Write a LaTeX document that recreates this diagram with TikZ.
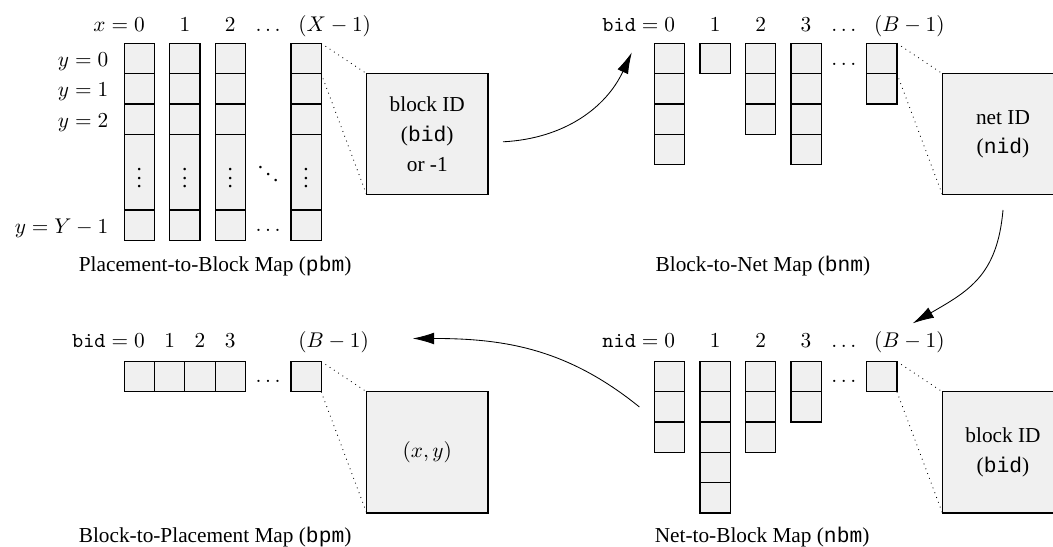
\documentclass[tikz,border=0pt]{standalone}
\usepackage[no-math]{fontspec}
\setmainfont{Liberation Serif}
\setmonofont{Liberation Mono}
\usetikzlibrary{positioning,arrows.meta}
\tikzset{
	x=0.5cm, y=0.5cm, % one unit is the side of one cell
	>={Latex[length=10pt,width=5.5pt]}, % big filled arrow heads
	cell/.style={draw, semithick, fill=black!6, minimum size=0.5cm, inner sep=0pt, outer sep=0pt}, % one entry of a map
	bigcell/.style={draw, semithick, fill=black!6, minimum size=2cm, align=center, outer sep=0pt}, % an entry seen up close
	zoomline/.style={dotted}, % from an entry to its close-up
}

\begin{document}
\begin{tikzpicture}
	\useasboundingbox (-4.1,1.43) rectangle (30.65,-16.59);

	% placement-to-block map
	\foreach \c/\x in {0/0,1/1.5,2/3,X/5.5}{
		\node[cell] (pbm-\c-1) at (\x+0.5,-0.5) {};
		\node[cell,below=0pt of pbm-\c-1] (pbm-\c-2) {};
		\node[cell,below=0pt of pbm-\c-2] (pbm-\c-3) {};
		\node[cell,minimum height=1.25cm,below=0pt of pbm-\c-3] (pbm-\c-d) {$\vdots$};
		\node[cell,below=0pt of pbm-\c-d] (pbm-\c-Y) {};
	}
	\node[above=5.5pt of pbm-0-1,anchor=base] (pbm-x0) {$\llap{$x={}$}0$};
	\node[above=5.5pt of pbm-1-1,anchor=base] (pbm-x1) {$1$};
	\node[above=5.5pt of pbm-2-1,anchor=base] (pbm-x2) {$2$};
	\node[anchor=base] (pbm-xd) at (4.75,0.39) {$\ldots$};
	\node[above=5.5pt of pbm-X-1.north west,anchor=base west] (pbm-xX) {$(X-1)$};
	\node[left=4pt of pbm-0-1,yshift=-1.5pt] (pbm-y0) {$y=0$};
	\node[left=4pt of pbm-0-2,yshift=-1.5pt] (pbm-y1) {$y=1$};
	\node[left=4pt of pbm-0-3,yshift=-1.5pt] (pbm-y2) {$y=2$};
	\node[left=4pt of pbm-0-Y,yshift=-1.5pt] (pbm-yY) {$y=Y-1$};
	\node (pbm-dd) at (4.75,-4.1) {$\ddots$};
	\node (pbm-ld) at (4.75,-6.16) {$\ldots$};
	\node[bigcell,anchor=north west] (pbm-box) at ([xshift=7.5mm]pbm-X-1.south east) {block ID\\[2pt](\texttt{bid})\\[2pt]or -1};
	\draw[zoomline] (pbm-X-1.north east) -- (pbm-box.north west)
		(pbm-X-1.south east) -- (pbm-box.south west);
	\node (pbm-cap) at (3,-7.35) {Placement-to-Block Map (\texttt{pbm})};

	% block-to-net map
	\foreach \c/\x/\n in {0/0/4,1/1.5/1,2/3/3,3/4.5/4,B/7/2}
		\foreach \r in {1,...,\n}
			\node[cell] (bnm-\c-\r) at (18+\x,0.5-\r) {};
	\node[above=5.5pt of bnm-0-1,anchor=base] (bnm-i0) {$\llap{$\mathtt{bid}={}$}0$};
	\foreach \c in {1,2,3}
		\node[above=5.5pt of bnm-\c-1,anchor=base] (bnm-i\c) {$\c$};
	\node[anchor=base] (bnm-id) at (23.75,0.4) {$\ldots$};
	\node[above=5.5pt of bnm-B-1.north west,anchor=base west] (bnm-iB) {$(B-1)$};
	\node (bnm-ld) at (23.75,-0.71) {$\ldots$};
	\node[bigcell,anchor=north west] (bnm-box) at ([xshift=7.5mm]bnm-B-1.south east) {net ID\\[2pt](\texttt{nid})};
	\draw[zoomline] (bnm-B-1.north east) -- (bnm-box.north west)
		(bnm-B-1.south east) -- (bnm-box.south west);
	\node (bnm-cap) at (21.08,-7.35) {Block-to-Net Map (\texttt{bnm})};

	% block-to-placement map
	\foreach \c in {0,1,2,3}
		\node[cell] (bpm-\c) at (\c+0.5,-11) {};
	\node[cell] (bpm-B) at (6,-11) {};
	\node[above=6.7pt of bpm-0,anchor=base] (bpm-i0) {$\llap{$\mathtt{bid}={}$}0$};
	\foreach \c in {1,2,3}
		\node[above=6.7pt of bpm-\c,anchor=base] (bpm-i\c) {$\c$};
	\node[above=6.7pt of bpm-B.north west,anchor=base west] (bpm-iB) {$(B-1)$};
	\node (bpm-ld) at (4.75,-11.17) {$\ldots$};
	\node[bigcell,anchor=north west] (bpm-box) at ([xshift=7.5mm]bpm-B.south east) {$(x,y)$};
	\draw[zoomline] (bpm-B.north east) -- (bpm-box.north west)
		(bpm-B.south east) -- (bpm-box.south west);
	\node (bpm-cap) at (3,-16.28) {Block-to-Placement Map (\texttt{bpm})};

	% net-to-block map
	\foreach \c/\x/\n in {0/0/3,1/1.5/5,2/3/3,3/4.5/2,B/7/1}
		\foreach \r in {1,...,\n}
			\node[cell] (nbm-\c-\r) at (18+\x,-10-\r) {};
	\node[above=6.7pt of nbm-0-1,anchor=base] (nbm-i0) {$\llap{$\mathtt{nid}={}$}0$};
	\foreach \c in {1,2,3}
		\node[above=6.7pt of nbm-\c-1,anchor=base] (nbm-i\c) {$\c$};
	\node[anchor=base] (nbm-id) at (23.75,-10.03) {$\ldots$};
	\node[above=6.7pt of nbm-B-1.north west,anchor=base west] (nbm-iB) {$(B-1)$};
	\node (nbm-ld) at (23.75,-11.17) {$\ldots$};
	\node[bigcell,anchor=north west] (nbm-box) at ([xshift=7.5mm]nbm-B-1.south east) {block ID\\[2pt](\texttt{bid})};
	\draw[zoomline] (nbm-B-1.north east) -- (nbm-box.north west)
		(nbm-B-1.south east) -- (nbm-box.south west);
	\node (nbm-cap) at (21.05,-16.28) {Net-to-Block Map (\texttt{nbm})};

	% arrows from one map to the next
	\coordinate (a1-from) at ([xshift=2.5mm,yshift=-1.25mm]pbm-box.east);
	\coordinate (a1-to) at ([xshift=-3.75mm,yshift=1mm]bnm-0-1.west);
	\coordinate (a2-from) at ([yshift=-2.5mm]bnm-box.south);
	\coordinate (a2-to) at ([xshift=2.6mm,yshift=6.3mm]nbm-B-1.north east);
	\coordinate (a3-from) at ([xshift=-2.5mm]nbm-0-2.west);
	\coordinate (a3-to) at ([xshift=-2.4mm,yshift=8.8mm]bpm-box.north);
	\draw[->] (a1-from) to[out=3,in=245] (a1-to);
	\draw[->] (a2-from) to[out=265,in=30,looseness=1.15] (a2-to);
	\draw[->] (a3-from) to[out=141,in=0] (a3-to);
\end{tikzpicture}
\end{document}
